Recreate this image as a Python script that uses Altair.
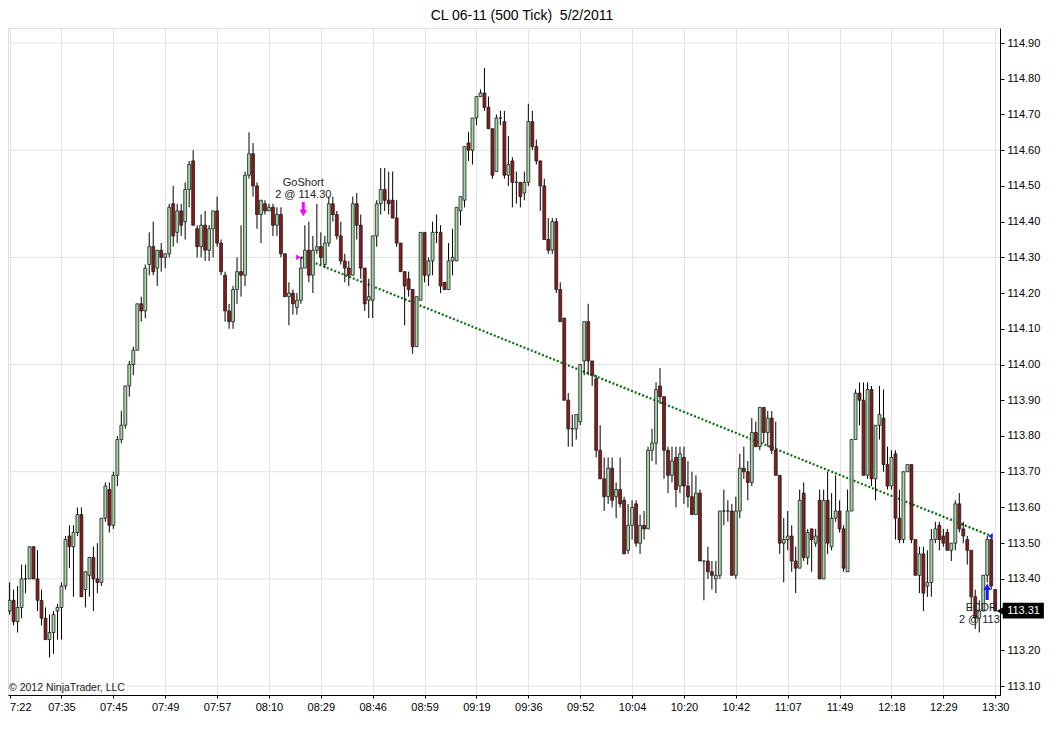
import altair as alt
import pandas as pd

# ---------------- data ----------------
opens = [113.31,113.34,113.28,113.32,113.40,113.40,113.49,113.40,113.34,113.29,
         113.23,113.25,113.31,113.32,113.38,113.52,113.49,113.53,113.58,113.37,
         113.41,113.46,113.40,113.39,113.57,113.65,113.55,113.69,113.79,113.83,
         113.94,114.00,114.04,114.17,114.15,114.28,114.33,114.27,114.32,114.30,
         114.31,114.45,114.37,114.43,114.40,114.49,114.57,114.38,114.33,114.39,
         114.32,114.38,114.43,114.34,114.25,114.15,114.12,114.21,114.26,114.25,
         114.53,114.59,114.50,114.42,114.45,114.43,114.44,114.39,114.42,114.31,
         114.19,114.20,114.16,114.18,114.27,114.32,114.25,114.32,114.33,114.28,
         114.34,114.45,114.42,114.36,114.29,114.27,114.25,114.45,114.39,114.27,
         114.18,114.18,114.36,114.45,114.49,114.46,114.46,114.41,114.34,114.26,
         114.24,114.21,114.05,114.18,114.37,114.25,114.29,114.37,114.37,114.23,
         114.21,114.29,114.29,114.43,114.46,114.62,114.60,114.69,114.75,114.76,
         114.72,114.66,114.54,114.69,114.68,114.53,114.57,114.51,114.51,114.48,
         114.51,114.68,114.61,114.57,114.50,114.35,114.32,114.40,114.21,114.13,
         113.90,113.82,113.82,113.84,114.01,114.12,114.01,113.96,113.76,113.68,
         113.63,113.71,113.63,113.65,113.62,113.48,113.55,113.61,113.50,113.55,
         113.54,113.76,113.78,113.94,113.91,113.76,113.69,113.74,113.66,113.74,
         113.66,113.63,113.58,113.64,113.45,113.45,113.42,113.40,113.41,113.59,
         113.59,113.59,113.41,113.59,113.71,113.70,113.67,113.81,113.77,113.88,
         113.81,113.85,113.76,113.69,113.50,113.51,113.52,113.45,113.43,113.64,
         113.46,113.54,113.50,113.62,113.40,113.62,113.49,113.57,113.59,113.54,
         113.42,113.59,113.79,113.92,113.90,113.69,113.93,113.68,113.83,113.85,
         113.72,113.66,113.75,113.57,113.51,113.70,113.72,113.51,113.41,113.47,
         113.38,113.39,113.51,113.55,113.52,113.53,113.48,113.50,113.61,113.54,
         113.51,113.48,113.35,113.29,113.31,113.41,113.51,113.37]
highs = [113.39,113.37,113.38,113.44,113.44,113.49,113.49,113.48,113.37,113.32,
         113.30,113.31,113.33,113.39,113.52,113.55,113.55,113.60,113.60,113.42,
         113.46,113.49,113.50,113.57,113.67,113.67,113.70,113.80,113.87,113.94,
         114.01,114.05,114.17,114.19,114.28,114.37,114.40,114.32,114.34,114.31,
         114.45,114.50,114.45,114.45,114.51,114.57,114.60,114.39,114.42,114.43,
         114.39,114.43,114.47,114.35,114.26,114.17,114.22,114.30,114.39,114.54,
         114.65,114.62,114.51,114.46,114.46,114.45,114.45,114.44,114.44,114.31,
         114.23,114.21,114.20,114.30,114.39,114.40,114.36,114.45,114.37,114.36,
         114.47,114.47,114.43,114.40,114.31,114.29,114.47,114.48,114.42,114.27,
         114.24,114.36,114.46,114.55,114.55,114.54,114.54,114.46,114.34,114.26,
         114.26,114.21,114.19,114.37,114.37,114.30,114.40,114.42,114.39,114.23,
         114.34,114.38,114.44,114.47,114.61,114.65,114.69,114.75,114.77,114.83,
         114.75,114.66,114.70,114.71,114.71,114.64,114.58,114.54,114.51,114.54,
         114.73,114.71,114.63,114.57,114.52,114.41,114.41,114.41,114.23,114.13,
         113.92,113.86,113.86,114.00,114.12,114.17,114.01,113.97,113.83,113.74,
         113.74,113.74,113.67,113.74,113.63,113.61,113.62,113.62,113.58,113.59,
         113.77,113.82,113.95,113.99,113.91,113.77,113.77,113.77,113.77,113.77,
         113.73,113.70,113.69,113.65,113.45,113.49,113.45,113.45,113.59,113.65,
         113.62,113.61,113.63,113.75,113.77,113.73,113.85,113.84,113.88,113.88,
         113.87,113.87,113.84,113.69,113.57,113.59,113.55,113.49,113.65,113.67,
         113.54,113.54,113.54,113.65,113.65,113.70,113.64,113.69,113.62,113.55,
         113.65,113.79,113.93,113.95,113.95,113.95,113.94,113.83,113.94,113.93,
         113.77,113.76,113.76,113.65,113.70,113.72,113.72,113.51,113.49,113.49,
         113.48,113.54,113.56,113.56,113.54,113.54,113.50,113.62,113.64,113.56,
         113.52,113.48,113.37,113.34,113.41,113.52,113.52,113.37]
lows = [113.30,113.27,113.25,113.29,113.36,113.40,113.40,113.31,113.27,113.23,
        113.18,113.19,113.23,113.23,113.37,113.43,113.35,113.52,113.35,113.32,
        113.35,113.31,113.36,113.38,113.56,113.53,113.54,113.66,113.78,113.82,
        113.91,113.97,114.04,114.12,114.13,114.25,114.25,114.22,114.26,114.27,
        114.30,114.33,114.34,114.36,114.35,114.44,114.39,114.30,114.30,114.29,
        114.29,114.30,114.33,114.25,114.12,114.10,114.10,114.17,114.19,114.22,
        114.52,114.47,114.38,114.34,114.42,114.43,114.36,114.36,114.30,114.19,
        114.11,114.14,114.14,114.17,114.27,114.23,114.20,114.31,114.28,114.27,
        114.33,114.40,114.35,114.28,114.23,114.22,114.25,114.35,114.24,114.15,
        114.13,114.13,114.33,114.42,114.43,114.42,114.41,114.33,114.26,114.11,
        114.19,114.03,114.05,114.18,114.23,114.22,114.25,114.34,114.20,114.21,
        114.21,114.25,114.29,114.39,114.44,114.57,114.56,114.67,114.75,114.71,
        114.66,114.52,114.54,114.67,114.52,114.50,114.44,114.45,114.44,114.46,
        114.50,114.60,114.56,114.43,114.35,114.31,114.31,114.20,114.12,113.90,
        113.77,113.77,113.79,113.83,113.97,113.97,113.94,113.74,113.68,113.59,
        113.61,113.60,113.57,113.60,113.47,113.47,113.51,113.49,113.47,113.51,
        113.54,113.73,113.72,113.89,113.68,113.64,113.67,113.60,113.64,113.61,
        113.60,113.58,113.58,113.45,113.34,113.40,113.37,113.36,113.40,113.55,
        113.56,113.41,113.40,113.57,113.68,113.62,113.66,113.77,113.76,113.78,
        113.77,113.75,113.69,113.47,113.39,113.48,113.42,113.36,113.43,113.45,
        113.44,113.42,113.49,113.40,113.40,113.47,113.48,113.56,113.53,113.42,
        113.42,113.59,113.79,113.83,113.69,113.68,113.66,113.62,113.79,113.70,
        113.65,113.65,113.51,113.50,113.50,113.70,113.50,113.41,113.36,113.31,
        113.35,113.35,113.50,113.48,113.49,113.48,113.45,113.48,113.53,113.50,
        113.44,113.31,113.26,113.25,113.31,113.39,113.37,113.31]
closes = [113.34,113.28,113.32,113.40,113.40,113.49,113.40,113.34,113.29,113.23,
          113.25,113.30,113.32,113.38,113.51,113.49,113.53,113.58,113.35,113.42,
          113.46,113.40,113.39,113.57,113.66,113.55,113.69,113.79,113.83,113.94,
          114.00,114.04,114.17,114.15,114.27,114.33,114.26,114.32,114.30,114.31,
          114.44,114.36,114.43,114.39,114.49,114.56,114.39,114.33,114.39,114.32,
          114.38,114.43,114.34,114.26,114.15,114.12,114.21,114.26,114.25,114.53,
          114.59,114.50,114.42,114.46,114.43,114.44,114.39,114.42,114.31,114.19,
          114.20,114.17,114.18,114.27,114.32,114.25,114.32,114.33,114.30,114.34,
          114.45,114.42,114.36,114.29,114.27,114.25,114.45,114.39,114.27,114.17,
          114.19,114.36,114.45,114.49,114.46,114.45,114.41,114.34,114.26,114.22,
          114.21,114.05,114.19,114.37,114.25,114.29,114.37,114.37,114.22,114.21,
          114.29,114.30,114.44,114.47,114.61,114.60,114.69,114.75,114.76,114.72,
          114.66,114.53,114.69,114.69,114.53,114.56,114.51,114.51,114.47,114.51,
          114.68,114.61,114.57,114.50,114.35,114.32,114.40,114.21,114.12,113.90,
          113.82,113.82,113.86,114.00,114.12,114.01,113.97,113.76,113.68,113.63,
          113.71,113.62,113.65,113.61,113.47,113.55,113.60,113.50,113.55,113.54,
          113.76,113.78,113.93,113.91,113.76,113.69,113.73,113.65,113.75,113.66,
          113.63,113.58,113.64,113.45,113.45,113.42,113.41,113.41,113.59,113.59,
          113.59,113.41,113.59,113.71,113.70,113.67,113.81,113.77,113.88,113.81,
          113.85,113.76,113.69,113.50,113.51,113.52,113.45,113.43,113.62,113.46,
          113.53,113.51,113.52,113.40,113.62,113.50,113.57,113.59,113.54,113.43,
          113.59,113.79,113.92,113.90,113.69,113.93,113.68,113.83,113.86,113.72,
          113.66,113.74,113.57,113.51,113.70,113.72,113.51,113.41,113.47,113.36,
          113.39,113.51,113.54,113.51,113.50,113.48,113.50,113.61,113.54,113.52,
          113.48,113.35,113.29,113.31,113.41,113.51,113.38,113.31]

x_labels = ["7:22", "07:35", "07:45", "07:49", "07:57", "08:10", "08:29", "08:46",
            "08:59", "09:19", "09:36", "09:52", "10:04", "10:20", "10:42", "11:07",
            "11:49", "12:18", "12:29", "13:30"]
label_every = 13
y_grid = [113.1, 113.4, 113.7, 114.0, 114.3, 114.6, 114.9]

entry_bar, entry_price = 73, 114.30
exit_bar, exit_price = 246, 113.52
last_price = 113.31
# y-axis labels every 0.10; the one under the last-price tag is hidden by it
y_ticks = [round(113.1 + 0.1 * k, 2) for k in range(19)]
y_ticks = [v for v in y_ticks if abs(v - last_price) > 0.03]

# ---------------- tables ----------------
n = len(closes)
df = pd.DataFrame({"i": list(range(n)), "open": opens, "high": highs,
                   "low": lows, "close": closes})
df["up"] = df["close"] >= df["open"]
df["xl"] = df["i"] - 0.36
df["xr"] = df["i"] + 0.36
df["blo"] = df[["open", "close"]].min(axis=1)
df["bhi"] = df[["open", "close"]].max(axis=1)

W, H = 992, 667
FONT = "Liberation Sans"
xs = alt.Scale(domain=[-0.4, 248.2], nice=False, zero=False)
ys = alt.Scale(domain=[113.075, 114.942], nice=False, zero=False)

label_expr = "[" + ",".join("'%s'" % s for s in x_labels) + "][round(datum.value/%d)]" % label_every
X_AX = alt.Axis(values=[label_every * k for k in range(len(x_labels))], labelExpr=label_expr,
                labelAlign={"expr": "datum.value == 0 ? 'left' : 'center'"},
                grid=True, gridColor="#e3e3e3", domainColor="#000", tickColor="#000",
                tickSize=3, labelFontSize=11, labelFont=FONT, labelColor="#000",
                labelPadding=3, title=None, labelOverlap=False)
Y_AX = alt.Axis(values=y_ticks, format=".2f", orient="right", grid=False,
                domainColor="#000", tickColor="#000", tickSize=4, labelFontSize=11,
                labelFont=FONT, labelColor="#000", labelPadding=3, title=None,
                labelOverlap=False)

base = alt.Chart(df)

grid = alt.Chart(pd.DataFrame({"g": y_grid})).mark_rule(color="#e3e3e3", strokeWidth=1).encode(
    y=alt.Y("g:Q", scale=ys, axis=Y_AX))

wicks = base.mark_rule(color="#000", strokeWidth=1).encode(
    x=alt.X("i:Q", scale=xs, axis=X_AX),
    y=alt.Y("low:Q", scale=ys, axis=Y_AX),
    y2="high:Q")

bodies = base.mark_rect(stroke="#1a1a1a", strokeWidth=0.8).encode(
    x=alt.X("xl:Q", scale=xs, axis=X_AX),
    x2="xr:Q",
    y=alt.Y("blo:Q", scale=ys, axis=Y_AX),
    y2="bhi:Q",
    fill=alt.condition("datum.up", alt.value("#a8d8a8"), alt.value("#8b1a1a")))

trade = alt.Chart(pd.DataFrame({"i": [entry_bar, exit_bar], "p": [entry_price, exit_price]})).mark_line(
    color="#0a6e0a", strokeWidth=2.2, strokeDash=[2, 2]).encode(
    x=alt.X("i:Q", scale=xs, axis=X_AX), y=alt.Y("p:Q", scale=ys, axis=Y_AX))

# entry annotations
ann_txt = pd.DataFrame({"i": [entry_bar + 0.6, entry_bar + 0.6], "p": [114.508, 114.474],
                        "t": ["GoShort", "2 @ 114.30"]})
entry_text = alt.Chart(ann_txt).mark_text(fontSize=11, font=FONT, color="#222").encode(
    x=alt.X("i:Q", scale=xs, axis=X_AX), y=alt.Y("p:Q", scale=ys, axis=Y_AX), text="t:N")

shaft_dn = alt.Chart(pd.DataFrame({"i": [entry_bar + 0.6], "a": [114.455], "b": [114.432]})).mark_rule(
    color="#ff00ff", strokeWidth=3).encode(
    x=alt.X("i:Q", scale=xs, axis=X_AX), y=alt.Y("a:Q", scale=ys, axis=Y_AX), y2="b:Q")
head_dn = alt.Chart(pd.DataFrame({"i": [entry_bar + 0.6], "p": [114.424]})).mark_point(
    shape="triangle-down", filled=True, color="#ff00ff", size=55, opacity=1).encode(
    x=alt.X("i:Q", scale=xs, axis=X_AX), y=alt.Y("p:Q", scale=ys, axis=Y_AX))
entry_mark = alt.Chart(pd.DataFrame({"i": [entry_bar - 0.6], "p": [entry_price]})).mark_point(
    shape="triangle-right", filled=True, color="#ff00ff", size=30, opacity=1).encode(
    x=alt.X("i:Q", scale=xs, axis=X_AX), y=alt.Y("p:Q", scale=ys, axis=Y_AX))

# exit annotations
exit_mark = alt.Chart(pd.DataFrame({"i": [exit_bar - 0.2], "p": [exit_price]})).mark_point(
    shape="triangle-left", filled=True, color="#1a1aff", size=30, opacity=1).encode(
    x=alt.X("i:Q", scale=xs, axis=X_AX), y=alt.Y("p:Q", scale=ys, axis=Y_AX))
shaft_up = alt.Chart(pd.DataFrame({"i": [exit_bar - 1.0], "a": [113.341], "b": [113.372]})).mark_rule(
    color="#1a1aff", strokeWidth=3).encode(
    x=alt.X("i:Q", scale=xs, axis=X_AX), y=alt.Y("a:Q", scale=ys, axis=Y_AX), y2="b:Q")
head_up = alt.Chart(pd.DataFrame({"i": [exit_bar - 1.0], "p": [113.378]})).mark_point(
    shape="triangle-up", filled=True, color="#1a1aff", size=55, opacity=1).encode(
    x=alt.X("i:Q", scale=xs, axis=X_AX), y=alt.Y("p:Q", scale=ys, axis=Y_AX))
exit_txt = pd.DataFrame({"i": [239.6, 237.9], "p": [113.318, 113.285], "t": ["ECDR", "2 @ 113.52"]})
exit_text = alt.Chart(exit_txt).mark_text(fontSize=11, font=FONT, color="#222", align="left",
                                          clip=True).encode(
    x=alt.X("i:Q", scale=xs, axis=X_AX), y=alt.Y("p:Q", scale=ys, axis=Y_AX), text="t:N")

# last price tag
tag = alt.Chart(pd.DataFrame({"a": [248.9], "b": [259.2], "lo": [113.289], "hi": [113.333]})).mark_rect(
    color="#000").encode(
    x=alt.X("a:Q", scale=xs, axis=X_AX), x2="b:Q", y=alt.Y("lo:Q", scale=ys, axis=Y_AX), y2="hi:Q")
tag_tip = alt.Chart(pd.DataFrame({"i": [248.3], "p": [last_price]})).mark_point(
    shape="triangle-left", filled=True, color="#000", size=70, opacity=1).encode(
    x=alt.X("i:Q", scale=xs, axis=X_AX), y=alt.Y("p:Q", scale=ys, axis=Y_AX))
tag_txt = alt.Chart(pd.DataFrame({"i": [254.1], "p": [last_price], "t": ["%.2f" % last_price]})).mark_text(
    fontSize=11, font=FONT, color="#fff").encode(
    x=alt.X("i:Q", scale=xs, axis=X_AX), y=alt.Y("p:Q", scale=ys, axis=Y_AX), text="t:N")

copyright_txt = alt.Chart(pd.DataFrame({"t": ["\u00a9 2012 NinjaTrader, LLC"]})).mark_text(
    fontSize=10.5, font=FONT, color="#222", align="left").encode(
    x=alt.value(1), y=alt.value(H - 7), text="t:N")

chart = alt.layer(grid, trade, wicks, bodies, entry_mark, shaft_dn, head_dn, entry_text,
                  exit_mark, shaft_up, head_up, exit_text, tag, tag_tip, tag_txt,
                  copyright_txt).properties(
    width=W, height=H,
    title=alt.TitleParams("CL 06-11 (500 Tick) \u00a05/2/2011", fontSize=14, font=FONT,
                          fontWeight="normal", color="#000", offset=5, dx=18),
    autosize=alt.AutoSizeParams(type="none"),
    padding={"left": 0, "top": 20, "right": 44, "bottom": 20},
).configure_view(stroke="#444", strokeWidth=1).configure(background="#ffffff")

chart.save("out.html", embed_options={"renderer": "svg", "actions": False})
